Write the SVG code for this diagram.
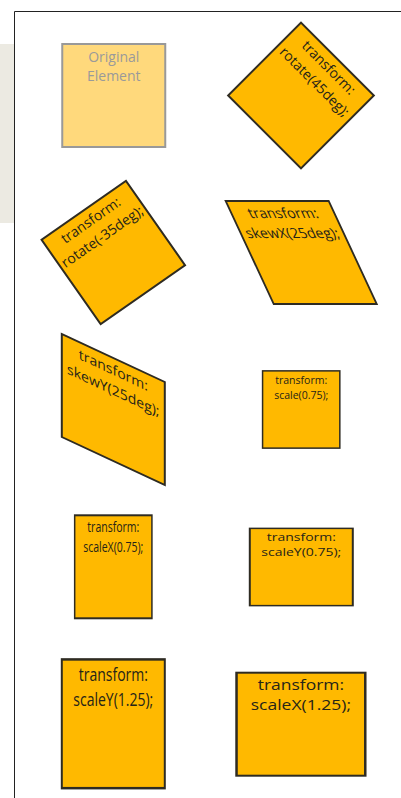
<svg xmlns="http://www.w3.org/2000/svg" width="401" height="798" viewBox="0 0 401 798">
  <style>
    .box { fill: #FFB900; stroke: #2e2b22; stroke-width: 2; }
    .orig { fill: #FFD97C; stroke: #999999; stroke-width: 2; }
    .lbl { font-family: "Open Sans", "Noto Sans", "Liberation Sans", sans-serif; font-size: 14px; fill: #262418; text-anchor: middle; }
    .olbl { font-family: "Open Sans", "Noto Sans", "Liberation Sans", sans-serif; font-size: 14px; fill: #9a9a9a; text-anchor: middle; }
  </style>
  <defs>
    <!-- 105x105 element centred on the origin -->
    <rect id="card" class="box" x="-51.5" y="-51.5" width="103" height="103"/>
  </defs>

  <!-- page chrome -->
  <rect x="0" y="44" width="14" height="179" fill="#ECEAE2"/>
  <path d="M14.5 798 V11.5 H401" fill="none" stroke="#222222" stroke-width="1"/>

  <g id="original" transform="translate(113.75,95.5)">
    <rect class="orig" x="-51.5" y="-51.5" width="103" height="103"/>
    <text class="olbl" x="0" y="-34">Original</text>
    <text class="olbl" x="0" y="-15">Element</text>
  </g>

  <g id="rotate45" transform="translate(301,95.5) rotate(45)">
    <use href="#card"/>
    <text class="lbl" x="0" y="-34.5">transform:</text>
    <text class="lbl" x="0" y="-14.5">rotate(45deg);</text>
  </g>

  <g id="rotate-35" transform="translate(113.3,252.5) rotate(-35)">
    <use href="#card"/>
    <text class="lbl" x="0" y="-34.5">transform:</text>
    <text class="lbl" x="0" y="-14.5">rotate(-35deg);</text>
  </g>

  <g id="skewX25" transform="translate(301.2,252.5) skewX(25)">
    <use href="#card"/>
    <text class="lbl" x="0" y="-34.5">transform:</text>
    <text class="lbl" x="0" y="-14.5">skewX(25deg);</text>
  </g>

  <g id="skewY25" transform="translate(113.3,409.5) skewY(25)">
    <use href="#card"/>
    <text class="lbl" x="0" y="-34.5">transform:</text>
    <text class="lbl" x="0" y="-14.5">skewY(25deg);</text>
  </g>

  <g id="scale075" transform="translate(301.2,409.5) scale(0.75)">
    <use href="#card"/>
    <text class="lbl" x="0" y="-34.5">transform:</text>
    <text class="lbl" x="0" y="-14.5">scale(0.75);</text>
  </g>

  <g id="scaleX075" transform="translate(113.3,566.8) scale(0.75,1)">
    <use href="#card"/>
    <text class="lbl" x="0" y="-34.5">transform:</text>
    <text class="lbl" x="0" y="-14.5">scaleX(0.75);</text>
  </g>

  <g id="scaleY075" transform="translate(301.3,567) scale(1,0.75)">
    <use href="#card"/>
    <text class="lbl" x="0" y="-34.5">transform:</text>
    <text class="lbl" x="0" y="-14.5">scaleY(0.75);</text>
  </g>

  <g id="scaleY125" transform="translate(113.3,723.8) scale(1,1.25)">
    <use href="#card"/>
    <text class="lbl" x="0" y="-34.5">transform:</text>
    <text class="lbl" x="0" y="-14.5">scaleY(1.25);</text>
  </g>

  <g id="scaleX125" transform="translate(300.9,724.2) scale(1.25,1)">
    <use href="#card"/>
    <text class="lbl" x="0" y="-34.5">transform:</text>
    <text class="lbl" x="0" y="-14.5">scaleX(1.25);</text>
  </g>

  <!-- no connectors in this figure -->
  <g id="connectors"/>
</svg>
